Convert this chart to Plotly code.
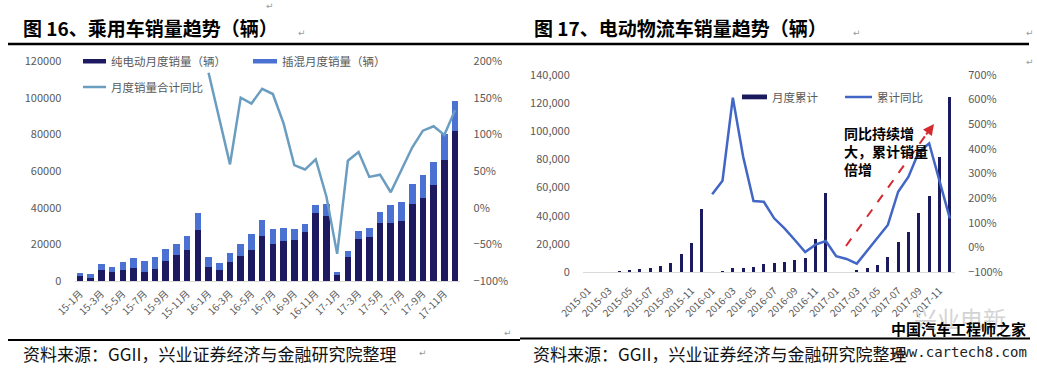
import plotly.graph_objects as go

W, H = 1037, 369

# ---------------- data: left chart (乘用车) ----------------
months_l = ["15-1月", "15-2月", "15-3月", "15-4月", "15-5月", "15-6月", "15-7月", "15-8月", "15-9月", "15-10月", "15-11月", "15-12月",
            "16-1月", "16-2月", "16-3月", "16-4月", "16-5月", "16-6月", "16-7月", "16-8月", "16-9月", "16-10月", "16-11月", "16-12月",
            "17-1月", "17-2月", "17-3月", "17-4月", "17-5月", "17-6月", "17-7月", "17-8月", "17-9月", "17-10月", "17-11月", "17-12月"]
ticks_l = ["15-1月", "15-3月", "15-5月", "15-7月", "15-9月", "15-11月",
           "16-1月", "16-3月", "16-5月", "16-7月", "16-9月", "16-11月",
           "17-1月", "17-3月", "17-5月", "17-7月", "17-9月", "17-11月"]
ev_sales = [2500, 1800, 6200, 5100, 6200, 7100, 4900, 6500, 11100, 14000, 17100, 27600,
            7600, 5800, 10400, 13600, 17100, 24400, 20200, 21600, 22200, 26700, 37100, 35500,
            3100, 13100, 22900, 24200, 31500, 31500, 32500, 42200, 45500, 52200, 66200, 81800]
phev_sales = [2100, 2200, 3250, 2700, 4300, 5300, 6200, 6800, 6500, 6000, 7300, 9300,
              5500, 4000, 5100, 6800, 8700, 9100, 8300, 7300, 6000, 4200, 4200, 6700,
              1600, 3300, 4200, 4700, 6000, 10000, 10400, 10500, 12300, 12500, 14200, 16400]
yoy_l = [None, None, None, None, None, None, None, None, None, None, None, None,
         184, 122, 59, 150, 142, 162, 155, 115, 58, 52, 66, 15,
         -63, 64, 76, 42, 45, 21, 51, 82, 105, 111, 99, 133]

# ---------------- data: right chart (电动物流车) ----------------
months_r = ["2015-01", "2015-02", "2015-03", "2015-04", "2015-05", "2015-06", "2015-07", "2015-08", "2015-09", "2015-10", "2015-11", "2015-12",
            "2016-01", "2016-02", "2016-03", "2016-04", "2016-05", "2016-06", "2016-07", "2016-08", "2016-09", "2016-10", "2016-11", "2016-12",
            "2017-01", "2017-02", "2017-03", "2017-04", "2017-05", "2017-06", "2017-07", "2017-08", "2017-09", "2017-10", "2017-11", "2017-12"]
ticks_r = ["2015-01", "2015-03", "2015-05", "2015-07", "2015-09", "2015-11",
           "2016-01", "2016-03", "2016-05", "2016-07", "2016-09", "2016-11",
           "2017-01", "2017-03", "2017-05", "2017-07", "2017-09", "2017-11"]
cum_sales = [None, None, None, 700, 1200, 1900, 2800, 4300, 6600, 12800, 20900, 44500,
             None, 700, 2600, 3100, 3600, 6000, 6400, 7200, 8400, 9700, 23200, 56400,
             None, None, 900, 2600, 5000, 10900, 21600, 28200, 42200, 54000, 82000, 124600]
yoy_r = [None, None, None, None, None, None, None, None, None, None, None, None,
         216, 271, 608, 368, 188, 185, 118, 77, 30, -19, 11, 26,
         -36, -47, -66, -15, 37, 91, 226, 287, 388, 422, 270, 118]

# ---------------- styles ----------------
C_EV = "#1e1a62"
C_PHEV = "#4b72d3"
C_LINE_L = "#6a9dc0"
C_BAR_R = "#1c1a5e"
C_LINE_R = "#4266c6"
GRAY = "#595959"
FONT = "Noto Sans CJK SC"


def px(x):
    return x / W


def py(y):
    return 1 - y / H


fig = go.Figure()

fig.add_trace(go.Bar(x=months_l, y=ev_sales, name="纯电动月度销量（辆）", marker_color=C_EV,
                     width=0.62, xaxis="x", yaxis="y", showlegend=False))
fig.add_trace(go.Bar(x=months_l, y=phev_sales, name="插混月度销量（辆）", marker_color=C_PHEV,
                     width=0.62, xaxis="x", yaxis="y", showlegend=False))
fig.add_trace(go.Scatter(x=months_l, y=yoy_l, name="月度销量合计同比", mode="lines",
                         line=dict(color=C_LINE_L, width=2.5), xaxis="x", yaxis="y2",
                         showlegend=False, connectgaps=False))

fig.add_trace(go.Bar(x=months_r, y=cum_sales, name="月度累计", marker_color=C_BAR_R,
                     width=0.3, xaxis="x2", yaxis="y3", showlegend=False))
fig.add_trace(go.Scatter(x=months_r, y=yoy_r, name="累计同比", mode="lines",
                         line=dict(color=C_LINE_R, width=2.5), xaxis="x2", yaxis="y4",
                         showlegend=False))

tickfont = dict(family=FONT, size=11, color=GRAY)
xtickfont = dict(family=FONT, size=10, color=GRAY)
clear = "rgba(0,0,0,0)"

fig.update_layout(
    template="none",
    width=W, height=H,
    margin=dict(l=0, r=0, t=0, b=0, autoexpand=False),
    paper_bgcolor="white", plot_bgcolor="white",
    barmode="stack",
    font=dict(family=FONT, color=GRAY),
    xaxis=dict(domain=[px(74.6), px(460.4)], anchor="y", type="category", automargin=False,
               categoryorder="array", categoryarray=months_l,
               tickvals=ticks_l, ticktext=ticks_l, tickangle=-45, tickfont=xtickfont,
               showline=True, linecolor="#d9d9d9", linewidth=1, showgrid=False, zeroline=False,
               ticks="outside", ticklen=2, tickcolor=clear, range=[-0.5, 35.5]),
    yaxis=dict(domain=[py(281), py(61)], anchor="x", range=[0, 120000], dtick=20000, automargin=False,
               tickformat="d", showgrid=False, zeroline=False, showline=False,
               ticks="outside", ticklen=10, tickcolor=clear, tickfont=tickfont),
    yaxis2=dict(overlaying="y", side="right", anchor="x", range=[-100, 200], dtick=50, automargin=False,
                ticksuffix="%", showgrid=False, zeroline=False, showline=False,
                ticks="outside", ticklen=10, tickcolor=clear, tickfont=tickfont),
    xaxis2=dict(domain=[px(583), px(955)], anchor="y3", type="category", automargin=False,
                categoryorder="array", categoryarray=months_r,
                tickvals=ticks_r, ticktext=ticks_r, tickangle=-45, tickfont=xtickfont,
                showline=True, linecolor="#d9d9d9", linewidth=1, showgrid=False, zeroline=False,
                ticks="outside", ticklen=8, tickcolor=clear, range=[-0.5, 35.5]),
    yaxis3=dict(domain=[py(272), py(75)], anchor="x2", range=[0, 140000], dtick=20000, automargin=False,
                tickformat=",d", showgrid=False, zeroline=False, showline=False,
                ticks="outside", ticklen=10, tickcolor=clear, tickfont=tickfont),
    yaxis4=dict(overlaying="y3", side="right", anchor="x2", range=[-100, 700], dtick=100, automargin=False,
                ticksuffix="%", showgrid=False, zeroline=False, showline=False,
                ticks="outside", ticklen=10, tickcolor=clear, tickfont=tickfont),
)

shapes = []
annotations = []

# header and footer rules
shapes.append(dict(type="line", xref="paper", yref="paper", x0=px(8), x1=px(1029), y0=py(44), y1=py(44),
                   line=dict(color="black", width=2.6)))
shapes.append(dict(type="line", xref="paper", yref="paper", x0=px(8), x1=px(520), y0=py(340), y1=py(340),
                   line=dict(color="black", width=2)))
shapes.append(dict(type="line", xref="paper", yref="paper", x0=px(520), x1=px(1030), y0=py(338.5), y1=py(338.5),
                   line=dict(color="black", width=2)))

# headers
annotations.append(dict(text="图 16、乘用车销量趋势（辆）", x=px(21), y=py(28), xref="paper", yref="paper",
                        xanchor="left", yanchor="middle", showarrow=False,
                        font=dict(family=FONT, size=19, color="black", weight="bold")))
annotations.append(dict(text="图 17、电动物流车销量趋势（辆）", x=px(532), y=py(28), xref="paper", yref="paper",
                        xanchor="left", yanchor="middle", showarrow=False,
                        font=dict(family=FONT, size=19, color="black", weight="bold")))

# footers
footer = "资料来源：GGII，兴业证券经济与金融研究院整理"
annotations.append(dict(text=footer, x=px(21), y=py(353), xref="paper", yref="paper",
                        xanchor="left", yanchor="middle", showarrow=False,
                        font=dict(family=FONT, size=17, color="#111111")))
annotations.append(dict(text=footer, x=px(531), y=py(353), xref="paper", yref="paper",
                        xanchor="left", yanchor="middle", showarrow=False,
                        font=dict(family=FONT, size=17, color="#111111")))
annotations.append(dict(text="www.cartech8.com", x=px(890), y=py(352), xref="paper", yref="paper",
                        xanchor="left", yanchor="middle", showarrow=False,
                        font=dict(family="DejaVu Sans Mono", size=14, color="#222222")))

# watermark
annotations.append(dict(text="兴业电新", x=px(912), y=py(318), xref="paper", yref="paper",
                        xanchor="left", yanchor="middle", showarrow=False,
                        font=dict(family=FONT, size=23, color="#d4d4d4")))
annotations.append(dict(text="中国汽车工程师之家", x=px(889), y=py(328), xref="paper", yref="paper",
                        xanchor="left", yanchor="middle", showarrow=False,
                        font=dict(family=FONT, size=15, color="black", weight="bold")))

# paragraph marks
for (mx, my) in [(302, 33), (857, 33), (1030, 33), (423, 353), (508, 333), (1030, 62), (270, 6)]:
    annotations.append(dict(text="↵", x=px(mx), y=py(my), xref="paper", yref="paper",
                            xanchor="center", yanchor="middle", showarrow=False,
                            font=dict(family="DejaVu Sans", size=9, color="#9a9a9a")))

# left legend
shapes.append(dict(type="rect", xref="paper", yref="paper", x0=px(83), x1=px(106), y0=py(63.5), y1=py(59),
                   line=dict(width=0), fillcolor=C_EV))
shapes.append(dict(type="rect", xref="paper", yref="paper", x0=px(253), x1=px(277), y0=py(63.5), y1=py(59),
                   line=dict(width=0), fillcolor=C_PHEV))
shapes.append(dict(type="line", xref="paper", yref="paper", x0=px(83), x1=px(106), y0=py(87), y1=py(87),
                   line=dict(color=C_LINE_L, width=2.5)))
legfont = dict(family=FONT, size=11.5, color=GRAY)
for (t, lx, ly) in [("纯电动月度销量（辆）", 109, 61), ("插混月度销量（辆）", 280, 61), ("月度销量合计同比", 109, 87)]:
    annotations.append(dict(text=t, x=px(lx), y=py(ly), xref="paper", yref="paper",
                            xanchor="left", yanchor="middle", showarrow=False, font=legfont))

# right legend
shapes.append(dict(type="rect", xref="paper", yref="paper", x0=px(742), x1=px(767), y0=py(99.3), y1=py(94.5),
                   line=dict(width=0), fillcolor=C_BAR_R))
shapes.append(dict(type="line", xref="paper", yref="paper", x0=px(845), x1=px(872), y0=py(97), y1=py(97),
                   line=dict(color=C_LINE_R, width=2.5)))
for (t, lx, ly) in [("月度累计", 770, 97), ("累计同比", 875, 97)]:
    annotations.append(dict(text=t, x=px(lx), y=py(ly), xref="paper", yref="paper",
                            xanchor="left", yanchor="middle", showarrow=False, font=legfont))

# red dashed arrow + note
RED = "#d42a2f"
shapes.append(dict(type="line", xref="paper", yref="paper", x0=px(846), y0=py(246), x1=px(928), y1=py(132),
                   line=dict(color=RED, width=2, dash="dash")))
annotations.append(dict(text="", x=px(934), y=py(124), xref="paper", yref="paper",
                        ax=-9, ay=12, showarrow=True, arrowhead=2, arrowsize=1.1, arrowwidth=2,
                        arrowcolor=RED))
annotations.append(dict(text="同比持续增<br>大，累计销量<br>倍增", x=px(842), y=py(121), xref="paper", yref="paper",
                        xanchor="left", yanchor="top", align="left", showarrow=False,
                        font=dict(family=FONT, size=14, color="black", weight="bold")))

fig.update_layout(shapes=shapes, annotations=annotations)

fig.write_html("out.html",
               config={"displayModeBar": False},
               post_script="document.body.style.margin='0';document.body.style.padding='0';document.body.style.overflow='hidden';")
